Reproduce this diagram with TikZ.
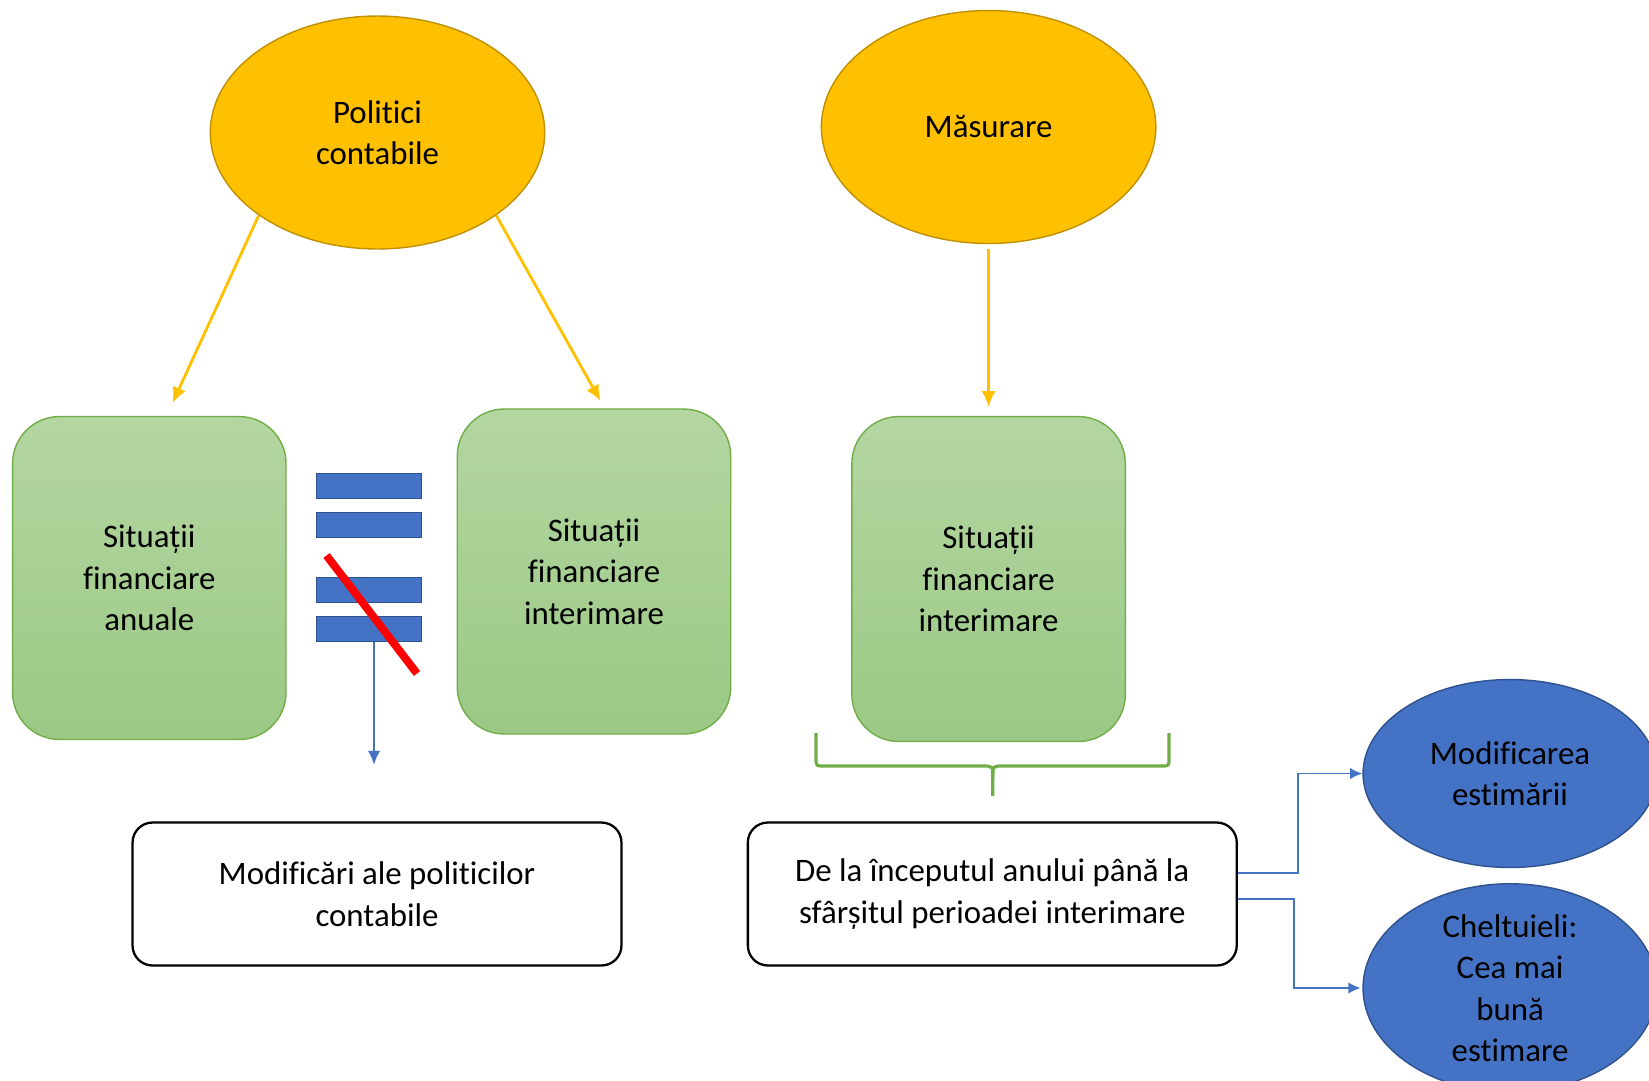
\documentclass[tikz,border=0pt]{standalone}
\usepackage{fontspec}
\setmainfont[Ligatures={NoCommon,NoRequired}]{Carlito}
\usetikzlibrary{shapes.geometric, arrows.meta, calc}

\definecolor{galben}{HTML}{FFC000}
\definecolor{galbenmargine}{HTML}{BF9000}
\definecolor{verdesus}{HTML}{B4D6A1}
\definecolor{verdejos}{HTML}{9BC985}
\definecolor{verdemargine}{HTML}{70AD47}
\definecolor{albastru}{HTML}{4472C4}
\definecolor{albastrumargine}{HTML}{2F528F}

\begin{document}
\begin{tikzpicture}[x=0.02cm, y=-0.02cm, >=Latex, font=\fontsize{18.7}{23.6}\selectfont,
  concept/.style={ellipse, draw=galbenmargine, fill=galben, thick, minimum width=6.69cm, minimum height=4.66cm, inner sep=0pt, align=center},
  situatie/.style={draw=verdemargine, thick, rounded corners=0.94cm, top color=verdesus, bottom color=verdejos, minimum width=5.47cm, minimum height=6.5cm, inner sep=0pt, align=center},
  caseta/.style={draw=black, line width=1.3pt, rounded corners=0.4cm, fill=white, minimum width=9.78cm, minimum height=2.86cm, inner sep=0pt, align=center},
  efect/.style={ellipse, draw=albastrumargine, fill=albastru, thick, minimum width=5.88cm, minimum height=3.76cm, inner sep=0pt, align=center},
  bara/.style={draw=albastrumargine, fill=albastru, thick, minimum width=2.1cm, minimum height=0.5cm, inner sep=0pt},
  sageatagalbena/.style={-{Latex[length=9pt,width=8pt]}, draw=galben, line width=1.6pt},
  sageataalbastra/.style={-{Latex[length=7pt,width=6.5pt]}, draw=albastru, line width=0.9pt}]
\useasboundingbox (0,0) rectangle (1649,1080);

% concepte
\node[concept] (pol) at (377.5,132.5) {Politici\\contabile};
\node[concept] (mas) at (988.6,127) {Măsurare};

% situatii financiare
\node[situatie, minimum height=6.46cm] (sfa) at (149.3,578) {Situații\\financiare\\anuale};
\node[situatie] (sfi1) at (594,571.5) {Situații\\financiare\\interimare};
\node[situatie] (sfi2) at (988.6,579) {Situații\\financiare\\interimare};

% semnul diferit
\node[bara] (bar1) at (369,485.7) {};
\node[bara] (bar2) at (369,524.7) {};
\node[bara] (bar3) at (369,590) {};
\node[bara] (bar4) at (369,628.9) {};
\coordinate (rosu1) at (326.5,555.5);
\coordinate (rosu2) at (417,673.5);
\draw[red, line width=4.5pt] (rosu1) -- (rosu2);

% casete
\node[caseta] (modpol) at (377,894) {Modificări ale politicilor\\contabile};
\node[caseta] (dela) at (992.3,894) {De la începutul anului până la\\sfârșitul perioadei interimare};

% efecte
\node[efect] (modest) at (1510,773.5) {Modificarea\\estimării};
\node[efect] (chelt) at (1510,988) {Cheltuieli:\\Cea mai\\bună\\estimare};

% sageti
\coordinate (t1) at (172.5,403);
\coordinate (t2) at (600.5,401);
\coordinate (t3) at (988.6,407);
\draw[sageatagalbena] (pol.south west) -- (t1);
\draw[sageatagalbena] (pol.south east) -- (t2);
\draw[sageatagalbena] ($(mas.south)+(0,5)$) -- (t3);

\coordinate (cap) at (374,765);
\draw[-{Latex[length=8pt,width=7pt]}, draw=albastru, line width=1.4pt] (bar4.south -| cap) -- (cap);

\draw[sageataalbastra] ($(dela.east)+(0,-21)$) -- ++(60,0) |- (modest.west);
\draw[sageataalbastra, shorten >=1] ($(dela.east)+(0,5)$) -- ++(56,0) |- (chelt.west);

% acolada
\coordinate (bst) at (816,733);
\coordinate (bdr) at (1169,733);
\coordinate (bvf) at (992.8,796);
\draw[verdemargine, line width=1.8pt] (bst) -- (816,758) .. controls (816,766) .. (824,766) -- (983,766) .. controls (992.8,766) .. (992.8,778) -- (bvf);
\draw[verdemargine, line width=1.8pt] (bdr) -- (1169,758) .. controls (1169,766) .. (1161,766) -- (1002.6,766) .. controls (992.8,766) .. (992.8,778);
\end{tikzpicture}
\end{document}
